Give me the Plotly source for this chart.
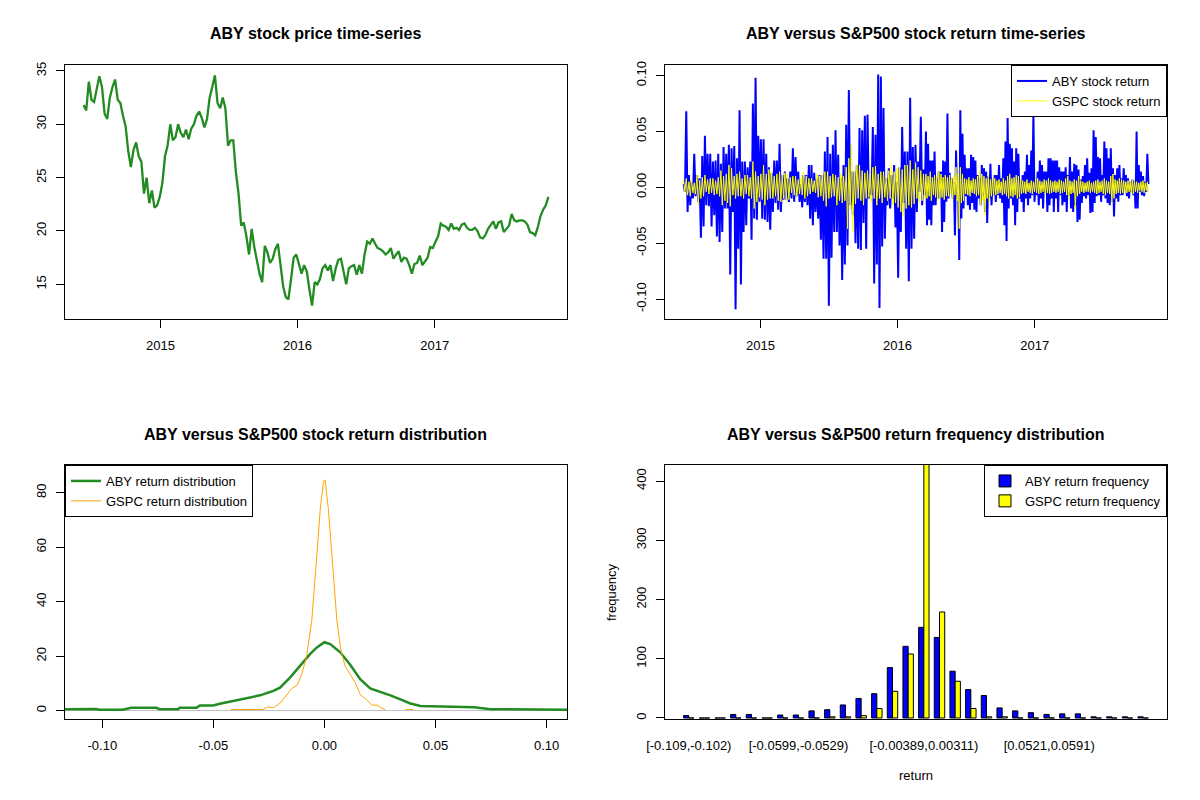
import pandas as pd
import plotly.graph_objects as go

# ---------------- data ----------------
price_start = "2014-06-10"
aby_price = [
    31.8, 31.3, 34.0, 32.3, 32.1, 33.5, 34.5, 33.5, 31.0, 30.5,
    32.5, 33.5, 34.2, 32.3, 32.0, 30.8, 29.8, 27.5, 26.0, 27.6,
    28.3, 27.0, 26.5, 23.5, 25.0, 22.6, 23.8, 22.2, 22.4, 23.2,
    24.5, 27.0, 28.0, 30.0, 28.5, 28.8, 30.0, 29.2, 28.8, 29.5,
    28.6, 29.6, 30.0, 30.8, 31.2, 30.6, 29.7, 30.5, 32.5, 33.5,
    34.6, 32.0, 31.5, 32.5, 31.5, 28.0, 28.5, 28.5, 25.5, 23.5,
    20.5, 20.8, 19.5, 17.8, 20.2, 18.5, 17.3, 16.0, 15.2, 18.6,
    18.0, 17.0, 17.4, 18.3, 18.8, 16.5, 14.8, 13.8, 13.6, 15.5,
    17.5, 17.8, 17.0, 16.0, 16.8, 16.2, 14.5, 13.0, 15.2, 15.0,
    15.5, 16.5,
    16.8, 16.3, 16.8, 15.3, 16.5, 17.3, 17.4, 16.0, 15.0, 16.5,
    16.7, 16.8, 15.9, 16.8, 16.0, 17.8, 19.0, 18.8, 19.3, 18.8,
    18.4, 18.3, 18.1, 17.8, 18.0, 18.4, 17.4, 17.8, 18.1, 17.1,
    17.5, 17.4, 16.8, 16.0, 16.9, 17.0, 17.7, 16.8, 17.2, 17.5,
    18.5, 18.4, 19.0, 19.5, 20.7, 20.5, 20.4, 20.1, 20.7, 20.2,
    20.3, 20.1, 20.6, 20.7, 20.3, 20.1, 20.1, 20.3, 20.0, 19.4,
    19.3, 19.6, 20.2, 20.6, 20.9, 20.2, 20.8, 20.9, 19.9, 20.2,
    20.5, 21.6, 21.0, 20.9, 21.0, 21.0, 20.9, 20.6, 19.9, 19.8,
    19.6, 20.4, 21.4, 22.0, 22.4, 23.2,
]

ret_a_start, ret_a_end = "2014-06-10", "2016-03-14"
ret_b_start, ret_b_end = "2016-03-17", "2017-10-31"

aby_ret_a = [
    0.003, -0.004, 0.068, -0.022, 0.011, -0.016, 0.005, -0.010, 0.030, -0.008,
    0.011, -0.013, 0.008, -0.045, 0.028, -0.035, 0.046, -0.016, 0.030, -0.017,
    0.030, -0.035, 0.023, -0.025, 0.024, -0.044, 0.030, -0.049, 0.021, -0.040,
    0.036, -0.019, 0.030, -0.019, 0.038, -0.078, 0.035, -0.022, 0.037, -0.109,
    0.026, -0.055, 0.069, -0.087, 0.023, -0.040, 0.023, -0.034, 0.018, -0.010,
    0.023, -0.047, 0.075, -0.028, 0.098, -0.029, 0.046, -0.013, 0.043, -0.028,
    0.043, -0.029, 0.030, -0.031, 0.018, -0.038, 0.013, -0.022, 0.024, -0.014,
    0.024, -0.020, 0.039, -0.022, 0.011, -0.011, 0.014, -0.011, 0.008, -0.013,
    0.014, -0.010, 0.035, -0.013, 0.027, -0.008, 0.014, -0.013, 0.003, -0.018,
    0.011, -0.013, 0.011, -0.016, 0.020, -0.028, 0.020, -0.034, 0.013, -0.022,
    0.008, -0.028, 0.011, -0.047, 0.011, -0.064, 0.032, -0.064, 0.045, -0.106,
    0.030, -0.063, 0.038, -0.040, 0.051, -0.040, 0.029, -0.052, 0.008, -0.083,
    0.020, -0.069, 0.056, -0.052, 0.087, -0.016, 0.014, -0.025, 0.014, -0.050,
    0.020, -0.055, 0.053, -0.056, 0.051, -0.032, 0.064, -0.055, 0.065, -0.010,
    0.005, -0.007, 0.054, -0.086, 0.047, -0.069, 0.101, -0.108, 0.099, -0.053,
    0.071, -0.046, 0.008, -0.016, 0.017, -0.019, 0.011, -0.010, 0.020, -0.036,
    0.005, -0.081, 0.018, -0.040, 0.054, -0.014, 0.032, -0.055, 0.032, -0.084,
    0.080, -0.055, 0.036, -0.046, 0.038, -0.022, 0.023, -0.004, 0.063, -0.016,
    0.016, -0.007,
]
aby_ret_b = [
    0.050, -0.034, 0.039, -0.029, 0.024, -0.034, 0.024, -0.016, 0.032, -0.016,
    0.008, -0.010, 0.014, -0.010, 0.014, -0.040, 0.024, -0.031, 0.023, -0.013,
    0.066, -0.010, 0.013, -0.001, 0.008, -0.010, 0.005, -0.043, 0.033, -0.010,
    0.002, -0.065, 0.069, -0.028, 0.048, -0.019, 0.029, -0.008, 0.017, -0.016,
    0.017, -0.020, 0.029, -0.014, 0.027, -0.020, 0.024, -0.022, 0.011, -0.010,
    0.008, -0.016, 0.020, -0.008, 0.017, -0.022, 0.014, -0.032, 0.010, -0.010,
    0.021, -0.016, 0.004, -0.007, 0.011, -0.013, 0.011, -0.007, 0.020, -0.010,
    0.008, -0.014, 0.026, -0.034, 0.041, -0.048, 0.062, -0.019, 0.039, -0.010,
    0.035, -0.016, 0.023, -0.034, 0.035, -0.022, 0.030, -0.010, 0.005, -0.013,
    0.011, -0.022, 0.014, -0.010, 0.029, -0.016, 0.020, -0.010, 0.033, -0.007,
    0.066, -0.013, 0.005, -0.007, 0.014, -0.016, 0.024, -0.010, 0.020, -0.019,
    0.014, -0.005, 0.014, -0.022, 0.026, -0.016, 0.026, -0.010, 0.024, -0.022,
    0.024, -0.010, 0.024, -0.022, 0.018, -0.007, 0.014, -0.016, 0.014, -0.013,
    0.018, -0.022, 0.011, -0.008, 0.027, -0.019, 0.014, -0.022, 0.021, -0.016,
    0.020, -0.031, 0.016, -0.029, 0.007, -0.014, 0.010, -0.008, 0.020, -0.010,
    0.026, -0.007, 0.013, -0.023, 0.017, -0.022, 0.051, -0.014, 0.045, -0.008,
    0.027, -0.007, 0.026, -0.013, 0.011, -0.007, 0.041, -0.010, 0.035, -0.014,
    0.026, -0.016, 0.035, -0.013, 0.017, -0.026, 0.011, -0.010, 0.017, -0.013,
    0.020, -0.007, 0.008, -0.007, 0.017, -0.002, 0.011, -0.008, 0.008, -0.010,
    0.005, -0.004, 0.007, -0.007, 0.006, -0.019, 0.050, -0.019, 0.020, -0.004,
    0.014, -0.007, 0.010, -0.008, 0.005, -0.004, 0.030, 0.003,
]
gspc_ret_a = [
    0.006, -0.004, 0.008, -0.007, 0.005, -0.008, 0.007, -0.005, 0.004, -0.006,
    0.011, -0.016, 0.006, -0.010, 0.009, -0.008, 0.011, -0.004, 0.007, -0.006,
    0.008, -0.005, 0.008, -0.007, 0.006, -0.006, 0.009, -0.008, 0.015, -0.016,
    0.010, -0.012, 0.012, -0.014, 0.020, -0.017, 0.017, -0.007, 0.010, -0.010,
    0.012, -0.008, 0.014, -0.008, 0.008, -0.010, 0.011, -0.006, 0.011, -0.008,
    0.009, -0.010, 0.023, -0.019, 0.014, -0.013, 0.010, -0.009, 0.012, -0.011,
    0.020, -0.016, 0.012, -0.011, 0.016, -0.010, 0.014, -0.010, 0.010, -0.008,
    0.012, -0.012, 0.014, -0.013, 0.011, -0.010, 0.013, -0.012, 0.012, -0.011,
    0.009, -0.005, 0.010, -0.007, 0.010, -0.008, 0.007, -0.006, 0.009, -0.007,
    0.014, -0.010, 0.010, -0.008, 0.008, -0.006, 0.008, -0.004, 0.006, -0.005,
    0.012, -0.009, 0.010, -0.008, 0.012, -0.012, 0.014, -0.017, 0.014, -0.010,
    0.010, -0.009, 0.012, -0.008, 0.011, -0.016, 0.009, -0.012, 0.013, -0.014,
    0.010, -0.012, 0.018, -0.037, 0.026, -0.020, 0.038, -0.040, 0.015, -0.015,
    0.020, -0.010, 0.020, -0.012, 0.015, -0.016, 0.013, -0.010, 0.015, -0.009,
    0.012, -0.014, 0.018, -0.010, 0.019, -0.016, 0.012, -0.010, 0.014, -0.014,
    0.014, -0.009, 0.010, -0.012, 0.015, -0.010, 0.020, -0.016, 0.014, -0.014,
    0.017, -0.018, 0.018, -0.022, 0.016, -0.026, 0.020, -0.019, 0.020, -0.016,
    0.024, -0.018, 0.016, -0.015, 0.022, -0.010, 0.018, -0.014, 0.015, -0.012,
    0.012, -0.010,
]
gspc_ret_b = [
    0.012, -0.010, 0.010, -0.008, 0.014, -0.012, 0.009, -0.007, 0.011, -0.009,
    0.010, -0.012, 0.014, -0.010, 0.012, -0.009, 0.009, -0.011, 0.011, -0.008,
    0.009, -0.008, 0.011, -0.006, 0.008, -0.010, 0.010, -0.007, 0.018, -0.012,
    0.012, -0.037, 0.018, -0.014, 0.012, -0.012,
    0.008, -0.006, 0.007, -0.007, 0.009, -0.008, 0.006, -0.005, 0.008, -0.006,
    0.007, -0.008, 0.010, -0.007,
    0.015, -0.016, 0.012, -0.012, 0.010, -0.025, 0.008, -0.010, 0.011, -0.014,
    0.007, -0.008, 0.008, -0.007,
    0.008, -0.007, 0.006, -0.006, 0.007, -0.005, 0.005, -0.007, 0.008, -0.006,
    0.006, -0.008, 0.010, -0.010, 0.012, -0.008, 0.008, -0.009, 0.009, -0.007,
    0.011, -0.010, 0.010, -0.009, 0.007, -0.006,
    0.006, -0.005, 0.005, -0.006, 0.007, -0.004, 0.004, -0.005, 0.006, -0.006,
    0.005, -0.004, 0.007, -0.005, 0.008, -0.006, 0.006, -0.005, 0.005, -0.004,
    0.007, -0.006, 0.006, -0.005, 0.008, -0.006, 0.006, -0.005, 0.005, -0.004,
    0.006, -0.005, 0.005, -0.004, 0.007, -0.006, 0.006, -0.005, 0.005, -0.004,
    0.008, -0.007, 0.010, -0.010, 0.006, -0.006, 0.005, -0.005, 0.007, -0.019,
    0.006, -0.008, 0.010, -0.006, 0.006, -0.004, 0.005, -0.005, 0.004, -0.004,
    0.005, -0.004, 0.006, -0.005, 0.004, -0.004, 0.005, -0.005, 0.006, -0.006,
    0.007, -0.005, 0.005, -0.004, 0.006, -0.006, 0.008, -0.007, 0.006, -0.005,
    0.005, -0.006, 0.010, -0.014, 0.012, -0.010, 0.007, -0.006, 0.006, -0.005,
    0.008, -0.006, 0.007, -0.005, 0.006, -0.004, 0.005, -0.005, 0.006, -0.004,
    0.005, -0.005, 0.007, -0.006, 0.006, -0.004, 0.005, -0.005, 0.004, -0.003,
    0.005, -0.004, 0.006, -0.005, 0.004, -0.003, 0.005, -0.004,
]

aby_dens_x = [-0.1200, -0.1134, -0.1028, -0.1013, -0.0908, -0.0870, -0.0757, -0.0742,
              -0.0659, -0.0652, -0.0576, -0.0561, -0.0501, -0.0471, -0.0411, -0.0350,
              -0.0290, -0.0230, -0.0200, -0.0155, -0.0110, -0.0065, -0.0034, 0.0000,
              0.0026, 0.0071, 0.0116, 0.0161, 0.0206, 0.0252, 0.0297, 0.0342, 0.0387,
              0.0432, 0.0508, 0.0583, 0.0673, 0.0748, 0.0914, 0.0944, 0.1120]
aby_dens_y = [0.5, 0.6, 0.6, 0.3, 0.3, 1.0, 1.0, 0.5, 0.5, 1.0, 1.0, 1.85, 1.85, 2.5,
              3.5, 4.4, 5.6, 7.2, 8.4, 12.1, 16.4, 20.7, 23.2, 25.1, 24.4, 21.4, 16.8,
              11.5, 8.1, 6.9, 5.6, 4.1, 2.6, 1.7, 1.5, 1.2, 1.2, 0.5, 0.5, 0.6, 0.3]
gspc_dens_x = [-0.0421, -0.0276, -0.0253, -0.0230, -0.0200, -0.0170, -0.0147, -0.0122,
               -0.0102, -0.0080, -0.0057, -0.0037, -0.0019, -0.0004, 0.0003, 0.0018,
               0.0038, 0.0056, 0.0074, 0.0093, 0.0116, 0.0139, 0.0161, 0.0184, 0.0214,
               0.0237, 0.0252, 0.0274, None, 0.0365, 0.0399]
gspc_dens_y = [0.4, 0.4, 1.4, 1.0, 2.7, 5.9, 8.1, 9.4, 13.3, 20.1, 33.1, 54.1, 73.8,
               84.3, 84.7, 73.8, 51.6, 33.1, 22.0, 16.4, 13.3, 10.2, 5.9, 4.4, 2.0,
               2.0, 1.2, 0.25, None, 0.4, 0.4]

bin_labels = [
    "[-0.109,-0.102)", "[-0.102,-0.0949)", "[-0.0949,-0.0879)", "[-0.0879,-0.0809)",
    "[-0.0809,-0.0739)", "[-0.0739,-0.0669)", "[-0.0669,-0.0599)", "[-0.0599,-0.0529)",
    "[-0.0529,-0.0459)", "[-0.0459,-0.0389)", "[-0.0389,-0.0319)", "[-0.0319,-0.0249)",
    "[-0.0249,-0.0179)", "[-0.0179,-0.0109)", "[-0.0109,-0.00389)", "[-0.00389,0.00311)",
    "[0.00311,0.0101)", "[0.0101,0.0171)", "[0.0171,0.0241)", "[0.0241,0.0311)",
    "[0.0311,0.0381)", "[0.0381,0.0451)", "[0.0451,0.0521)", "[0.0521,0.0591)",
    "[0.0591,0.0661)", "[0.0661,0.0731)", "[0.0731,0.0801)", "[0.0801,0.0871)",
    "[0.0871,0.0941)", "[0.0941,0.101]",
]
shown_bin_labels = ["[-0.109,-0.102)", "[-0.0599,-0.0529)", "[-0.00389,0.00311)", "[0.0521,0.0591)"]
aby_freq = [4, 0, 0, 6, 6, 0, 5, 5, 12, 14, 22, 33, 41, 85, 121, 153, 136, 79, 48, 38,
            17, 12, 9, 6, 7, 7, 2, 2, 2, 2]
gspc_freq = [0, 0, 0, 0, 0, 0, 0, 0, 0, 2, 2, 4, 16, 45, 108, 435, 179, 62, 16, 2,
             2, 0, 0, 0, 0, 0, 0, 0, 0, 0]

price_ticks = [15, 20, 25, 30, 35]
ret_ticks = [-0.10, -0.05, 0.00, 0.05, 0.10]
ret_tick_text = ["-0.10", "-0.05", "0.00", "0.05", "0.10"]
dens_ticks = [0, 20, 40, 60, 80]
freq_ticks = [0, 100, 200, 300, 400]
year_ticks = ["2015-01-01", "2016-01-01", "2017-01-01"]
year_text = ["2015", "2016", "2017"]

# ---------------- build ----------------
FONT = "Liberation Sans, Arial, sans-serif"
price_dates = pd.date_range(price_start, periods=len(aby_price), freq="7D")
aby_dates = list(pd.date_range(ret_a_start, ret_a_end, periods=len(aby_ret_a))) + \
    list(pd.date_range(ret_b_start, ret_b_end, periods=len(aby_ret_b)))
gspc_dates = list(pd.date_range(ret_a_start, ret_a_end, periods=len(gspc_ret_a))) + \
    list(pd.date_range(ret_b_start, ret_b_end, periods=len(gspc_ret_b)))
span = price_dates[-1] - price_dates[0]
date_range = [price_dates[0] - 0.04 * span, price_dates[-1] + 0.04 * span]

fig = go.Figure()
fig.add_trace(go.Scatter(x=price_dates, y=aby_price, mode="lines",
                         line=dict(color="#228B22", width=2.3), showlegend=False,
                         xaxis="x", yaxis="y"))
fig.add_trace(go.Scatter(x=aby_dates, y=aby_ret_a + aby_ret_b, mode="lines",
                         line=dict(color="#0000FF", width=2), name="ABY stock return",
                         xaxis="x2", yaxis="y2", legend="legend"))
fig.add_trace(go.Scatter(x=gspc_dates, y=gspc_ret_a + gspc_ret_b, mode="lines",
                         line=dict(color="#FFFF00", width=1), name="GSPC stock return",
                         xaxis="x2", yaxis="y2", legend="legend"))
fig.add_trace(go.Scatter(x=aby_dens_x, y=aby_dens_y, mode="lines",
                         line=dict(color="#228B22", width=2.5), name="ABY return distribution",
                         xaxis="x3", yaxis="y3", legend="legend2", connectgaps=False))
fig.add_trace(go.Scatter(x=gspc_dens_x, y=gspc_dens_y, mode="lines",
                         line=dict(color="#FFA500", width=1), name="GSPC return distribution",
                         xaxis="x3", yaxis="y3", legend="legend2", connectgaps=False))
fig.add_trace(go.Bar(x=bin_labels, y=aby_freq, name="ABY return frequency",
                     marker=dict(color="#0000FF", line=dict(color="black", width=1)),
                     xaxis="x4", yaxis="y4", legend="legend3"))
fig.add_trace(go.Bar(x=bin_labels, y=gspc_freq, name="GSPC return frequency",
                     marker=dict(color="#FFFF00", line=dict(color="black", width=1)),
                     xaxis="x4", yaxis="y4", legend="legend3"))

W, H = 1200, 800
L1, R1, L2, R2 = 65, 567, 665, 1167
T1, B1, T2, B2 = 65, 319, 465, 719
dx1 = [L1 / W, R1 / W]
dx2 = [L2 / W, R2 / W]
dy1 = [1 - B1 / H, 1 - T1 / H]
dy2 = [1 - B2 / H, 1 - T2 / H]

tickfont = dict(family=FONT, size=13, color="black")
common = dict(showline=True, linecolor="black", linewidth=1, mirror=True,
              ticks="outside", ticklen=8, tickcolor="black", tickwidth=1,
              showgrid=False, zeroline=False, tickfont=tickfont, automargin=False)
xcommon = dict(common, ticklabelstandoff=6)
ycommon = dict(common, tickangle=-90, ticklabelstandoff=5)

legend_common = dict(bgcolor="white", bordercolor="black", borderwidth=1,
                     font=dict(family=FONT, size=13, color="black"),
                     tracegroupgap=0, itemclick=False)

fig.update_layout(
    template="none",
    width=W, height=H, margin=dict(l=0, r=0, t=0, b=0, autoexpand=False),
    paper_bgcolor="white", plot_bgcolor="white",
    font=dict(family=FONT, size=13, color="black"),
    barmode="group", bargap=1 / 3, bargroupgap=0,
    xaxis=dict(xcommon, domain=dx1, anchor="y", type="date", range=date_range,
               tickvals=year_ticks, ticktext=year_text),
    yaxis=dict(ycommon, domain=dy1, anchor="x", range=[11.75, 35.56], tickvals=price_ticks),
    xaxis2=dict(xcommon, domain=dx2, anchor="y2", type="date", range=date_range,
                tickvals=year_ticks, ticktext=year_text),
    yaxis2=dict(ycommon, domain=dy1, anchor="x2", range=[-0.1178, 0.1094],
                tickvals=ret_ticks, ticktext=ret_tick_text),
    xaxis3=dict(xcommon, domain=dx1, anchor="y3", range=[-0.1168, 0.1092],
                tickvals=ret_ticks, ticktext=ret_tick_text),
    yaxis3=dict(ycommon, domain=dy2, anchor="x3", range=[-3.1, 90.2], tickvals=dens_ticks),
    xaxis4=dict(xcommon, domain=dx2, anchor="y4", type="category", range=[-1.52, 30.52],
                tickvals=shown_bin_labels, ticktext=shown_bin_labels,
                tickcolor="rgba(0,0,0,0)"),
    yaxis4=dict(ycommon, domain=dy2, anchor="x4", range=[-1.7, 427], tickvals=freq_ticks),
    legend=dict(legend_common, x=R2 / W, xanchor="right", y=1 - T1 / H, yanchor="top"),
    legend2=dict(legend_common, x=L1 / W, xanchor="left", y=1 - T2 / H, yanchor="top"),
    legend3=dict(legend_common, x=R2 / W, xanchor="right", y=1 - T2 / H, yanchor="top"),
    shapes=[dict(type="line", xref="x3 domain", yref="y3", x0=0, x1=1, y0=0, y1=0,
                 line=dict(color="#BEBEBE", width=1), layer="below")],
)

titles = [
    ("ABY stock price time-series", (L1 + R1) / 2, 34),
    ("ABY versus S&P500 stock return time-series", (L2 + R2) / 2, 34),
    ("ABY versus S&P500 stock return distribution", (L1 + R1) / 2, 434),
    ("ABY versus S&P500 return frequency distribution", (L2 + R2) / 2, 434),
]
for text, cx, cy in titles:
    fig.add_annotation(text="<b>" + text + "</b>", x=cx / W, y=1 - cy / H, xref="paper",
                       yref="paper", showarrow=False, xanchor="center", yanchor="middle",
                       font=dict(family=FONT, size=16, color="black"))
fig.add_annotation(text="return", x=(L2 + R2) / 2 / W, y=1 - 775 / H, xref="paper",
                   yref="paper", showarrow=False, xanchor="center", yanchor="middle",
                   font=dict(family=FONT, size=13, color="black"))
fig.add_annotation(text="frequency", x=611 / W, y=1 - (T2 + B2) / 2 / H, xref="paper",
                   yref="paper", showarrow=False, xanchor="center", yanchor="middle",
                   textangle=-90, font=dict(family=FONT, size=13, color="black"))

fig.write_html("out.html", config={"displayModeBar": False},
               post_script="document.body.style.margin='0';document.body.style.overflow='hidden';")
